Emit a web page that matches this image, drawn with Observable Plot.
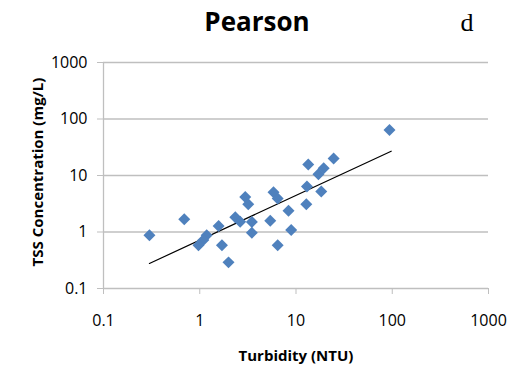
<!DOCTYPE html>
<html><head><meta charset="utf-8">
<script src="https://cdn.jsdelivr.net/npm/d3@7"></script>
<script src="https://cdn.jsdelivr.net/npm/@observablehq/plot@0.6"></script>
<style>body{margin:0;background:#fff}#chart{width:517px;height:374px;overflow:hidden}</style>
</head><body><div id="chart"></div>
<script>
const turbidity = [0.30, 0.69, 1.57, 1.18, 1.09, 0.97, 1.70, 1.99, 2.34, 2.63, 2.97, 3.19, 3.48, 3.48, 5.40, 5.84, 6.45, 6.45, 8.36, 8.91, 12.8, 13.0, 13.4, 18.3, 17.1, 19.4, 24.6, 93.6];
const tss = [0.88, 1.68, 1.28, 0.88, 0.72, 0.58, 0.58, 0.29, 1.83, 1.52, 4.18, 3.10, 1.51, 0.97, 1.58, 5.06, 3.92, 0.58, 2.38, 1.08, 3.10, 6.39, 15.7, 5.21, 10.5, 13.5, 20.0, 63.9];
const fitTurbidity = [0.3, 97.5];
const fitTss = [0.277, 26.9];
const tickValues = [0.1, 1, 10, 100, 1000];
const tickLabels = ["0.1", "1", "10", "100", "1000"];
const title = "Pearson";
const panelLetter = "d";
const xTitle = "Turbidity (NTU)";
const yTitle = "TSS Concentration (mg/L)";

const points = turbidity.map((x, i) => ({x, y: tss[i]}));
const fit = fitTurbidity.map((x, i) => ({x, y: fitTss[i]}));
const font = "'Open Sans', sans-serif";
const grid = "#bfbfbf";
const fmt = d => tickLabels[tickValues.indexOf(d)];

const plot = Plot.plot({
  width: 517, height: 374,
  marginLeft: 103, marginRight: 29, marginTop: 62, marginBottom: 86,
  style: {fontFamily: font, fontSize: "16px", color: "#000", background: "#fff", overflow: "visible"},
  x: {type: "log", domain: [0.1, 1000]},
  y: {type: "log", domain: [0.1, 1000]},
  marks: [
    Plot.gridY(tickValues, {stroke: grid, strokeOpacity: 1, strokeWidth: 1.3}),
    Plot.ruleX([0.1], {stroke: grid, strokeWidth: 1.3}),
    Plot.axisY(tickValues, {tickSize: 6, tickPadding: 10, tickFormat: fmt, stroke: grid, label: null}),
    Plot.axisX(tickValues, {tickSize: 6, tickPadding: 20, tickFormat: fmt, stroke: grid, label: null}),
    Plot.line(fit, {x: "x", y: "y", stroke: "#000", strokeWidth: 1.2}),
    Plot.dot(points, {x: "x", y: "y", symbol: "diamond2", r: 5.4, fill: "#4F81BD", stroke: "none"})
  ]
});

const svg = d3.select(plot);
svg.append("text").text(title)
  .attr("x", 257).attr("y", 31).attr("text-anchor", "middle")
  .style("font-family", font).style("font-weight", "bold").style("font-size", "26px");
svg.append("text").text(panelLetter)
  .attr("x", 467).attr("y", 31).attr("text-anchor", "middle")
  .style("font-family", "'Liberation Serif', serif").style("font-size", "26px");
svg.append("text").text(xTitle)
  .attr("x", 296).attr("y", 361).attr("text-anchor", "middle")
  .style("font-family", font).style("font-weight", "bold").style("font-size", "15px");
svg.append("text").text(yTitle)
  .attr("transform", "translate(43,172) rotate(-90)").attr("text-anchor", "middle")
  .style("font-family", font).style("font-weight", "bold").style("font-size", "15px");

document.getElementById("chart").appendChild(plot);
</script>
</body></html>
